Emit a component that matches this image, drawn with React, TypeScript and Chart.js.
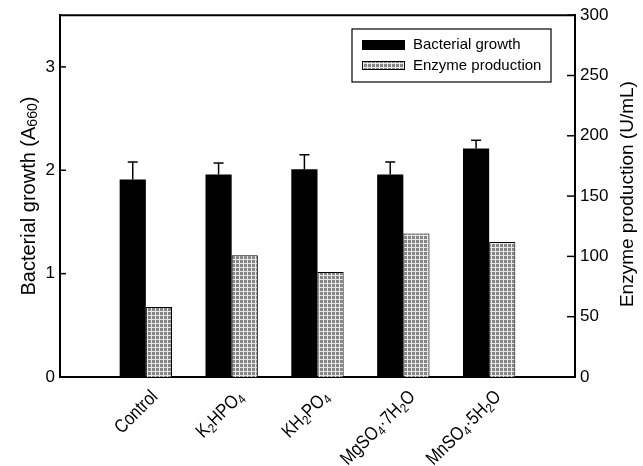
import { useEffect, useRef } from "react";
import { Chart, registerables } from "chart.js";

Chart.register(...registerables);

// Salt supplements tested against the control medium
const categories = ["Control", "K₂HPO₄", "KH₂PO₄", "MgSO₄·7H₂O", "MnSO₄·5H₂O"];
// Bacterial growth, A660 (left axis)
const growth = [1.91, 1.96, 2.01, 1.96, 2.21];
const growthErr = [0.17, 0.11, 0.14, 0.12, 0.08];
// Enzyme production, U/mL (right axis)
const enzyme = [58, 101, 87, 119, 112];
const growthTicks = [0, 1, 2, 3];
const enzymeTicks = [0, 50, 100, 150, 200, 250, 300];
const seriesNames = ["Bacterial growth", "Enzyme production"];
const leftTitle = "Bacterial growth (A₆₆₀)";
const rightTitle = "Enzyme production (U/mL)";

const FONT = '"Liberation Sans", Arial, sans-serif';
const SUB = "₀₁₂₃₄₅₆₇₈₉";

// split a label into normal and subscript runs
function runs(s: string) {
  const out: { t: string; sub: boolean }[] = [];
  for (const ch of s) {
    const k = SUB.indexOf(ch);
    const sub = k >= 0;
    const t = sub ? String(k) : ch;
    const last = out[out.length - 1];
    if (last && last.sub === sub) last.t += t;
    else out.push({ t, sub });
  }
  return out;
}

// draws text with subscripts; the anchor is the right end when alignRight, else the centre
function drawRich(
  c: CanvasRenderingContext2D,
  s: string,
  size: number,
  subSize: number,
  subDrop: number,
  alignRight: boolean,
  squeeze = 1
) {
  const parts = runs(s);
  const widths = parts.map((p) => {
    c.font = `${p.sub ? subSize : size}px ${FONT}`;
    return c.measureText(p.t).width * squeeze;
  });
  const total = widths.reduce((a, b) => a + b, 0);
  let x = alignRight ? -total : -total / 2;
  c.textBaseline = "middle";
  c.textAlign = "left";
  parts.forEach((p, i) => {
    c.font = `${p.sub ? subSize : size}px ${FONT}`;
    c.save();
    c.translate(x, p.sub ? subDrop : 0);
    c.scale(squeeze, 1);
    c.fillText(p.t, 0, 0);
    c.restore();
    x += widths[i];
  });
}

function makeHatch(ctx: CanvasRenderingContext2D) {
  const c = document.createElement("canvas");
  c.width = 4;
  c.height = 4;
  const g = c.getContext("2d")!;
  g.fillStyle = "#858585";
  g.fillRect(0, 0, 4, 4);
  g.fillStyle = "#e8e8e8";
  g.fillRect(3, 0, 1, 4);
  g.fillRect(0, 3, 4, 1);
  return ctx.createPattern(c, "repeat")!;
}

function line(ctx: CanvasRenderingContext2D, x1: number, y1: number, x2: number, y2: number) {
  ctx.beginPath();
  ctx.moveTo(x1, y1);
  ctx.lineTo(x2, y2);
  ctx.stroke();
}

export default function App() {
  const ref = useRef<HTMLCanvasElement>(null);

  useEffect(() => {
    const canvas = ref.current!;
    const ctx = canvas.getContext("2d")!;
    const hatch = makeHatch(ctx);

    const decor = {
      id: "decor",
      afterDatasetsDraw(chart: any) {
        const { ctx: c, chartArea: a, scales } = chart;
        const xs = scales.x;
        const yL = scales.y;
        const yR = scales.y1;
        c.save();
        c.strokeStyle = "#000";
        c.fillStyle = "#000";

        // top frame line
        c.lineWidth = 2;
        line(c, a.left - 1, a.top, a.right + 1, a.top);

        // inward tick marks
        c.lineWidth = 1.5;
        growthTicks.forEach((v) => {
          const y = yL.getPixelForValue(v);
          line(c, a.left, y, a.left + 6, y);
        });
        enzymeTicks.forEach((v) => {
          const y = yR.getPixelForValue(v);
          line(c, a.right - 8, y, a.right, y);
        });

        // upper error bars on growth bars
        const meta = chart.getDatasetMeta(0);
        categories.forEach((_, i) => {
          const bar = meta.data[i + 1];
          if (!bar) return;
          const top = yL.getPixelForValue(growth[i] + growthErr[i]);
          const base = yL.getPixelForValue(growth[i]);
          line(c, bar.x, base, bar.x, top);
          line(c, bar.x - 5, top, bar.x + 5, top);
        });

        // category labels, slanted at 45 degrees
        categories.forEach((name, i) => {
          const x = xs.getPixelForTick(i + 1);
          c.save();
          c.translate(x + 9, a.bottom + 17);
          c.rotate(-Math.PI / 4);
          drawRich(c, name, 19, 13, 5, true, 0.85);
          c.restore();
        });

        // legend
        c.lineWidth = 1.2;
        c.strokeRect(352, 29, 199, 53);
        c.fillRect(362, 40, 43, 10);
        c.fillStyle = hatch;
        c.fillRect(362, 61, 43, 9);
        c.lineWidth = 1;
        c.strokeRect(362.5, 61.5, 42, 8);
        c.fillStyle = "#000";
        c.font = `15px ${FONT}`;
        c.textAlign = "left";
        c.textBaseline = "middle";
        c.fillText(seriesNames[0], 413, 45);
        c.fillText(seriesNames[1], 413, 66);

        // axis titles, both read bottom to top
        const midY = (a.top + a.bottom) / 2;
        c.save();
        c.translate(29, midY);
        c.rotate(-Math.PI / 2);
        drawRich(c, leftTitle, 20, 14, 4, false);
        c.restore();

        c.save();
        c.translate(628, midY - 2);
        c.rotate(-Math.PI / 2);
        drawRich(c, rightTitle, 19, 13, 4, false);
        c.restore();

        c.restore();
      },
    };

    const chart = new Chart(canvas, {
      type: "bar",
      data: {
        labels: ["", ...categories, ""],
        datasets: [
          {
            label: seriesNames[0],
            data: [null, ...growth, null],
            backgroundColor: "#000",
            borderWidth: 0,
            yAxisID: "y",
            barPercentage: 1,
            categoryPercentage: 0.61,
          },
          {
            label: seriesNames[1],
            data: [null, ...enzyme, null],
            backgroundColor: hatch,
            borderColor: "#000",
            borderWidth: 1,
            borderSkipped: "bottom",
            yAxisID: "y1",
            barPercentage: 1,
            categoryPercentage: 0.61,
          },
        ],
      },
      options: {
        responsive: false,
        animation: false,
        events: [],
        layout: { padding: { top: 13, left: 0, right: 0, bottom: 0 } },
        plugins: { legend: { display: false }, tooltip: { enabled: false } },
        scales: {
          x: {
            type: "category",
            offset: false,
            grid: { display: false, drawTicks: false },
            border: { display: true, color: "#000", width: 2 },
            ticks: { display: false, autoSkip: false },
            afterFit: (s: any) => {
              s.height = 89;
            },
          },
          y: {
            position: "left",
            min: 0,
            max: 3.5,
            grid: { display: false, drawTicks: false },
            border: { display: true, color: "#000", width: 2 },
            ticks: {
              color: "#000",
              font: { family: FONT, size: 17 },
              padding: 5,
            },
            afterBuildTicks: (s: any) => {
              s.ticks = growthTicks.map((value) => ({ value }));
            },
            afterFit: (s: any) => {
              s.width = 60;
            },
          },
          y1: {
            position: "right",
            min: 0,
            max: 300,
            grid: { display: false, drawTicks: false },
            border: { display: true, color: "#000", width: 2 },
            ticks: {
              color: "#000",
              font: { family: FONT, size: 17 },
              padding: 5,
            },
            afterBuildTicks: (s: any) => {
              s.ticks = enzymeTicks.map((value) => ({ value }));
            },
            afterFit: (s: any) => {
              s.width = 68;
            },
          },
        },
      },
      plugins: [decor],
    });

    return () => chart.destroy();
  }, []);

  return (
    <div style={{ position: "absolute", left: 0, top: 0, width: 643, height: 466, background: "#fff" }}>
      <canvas ref={ref} width={643} height={466} />
    </div>
  );
}
